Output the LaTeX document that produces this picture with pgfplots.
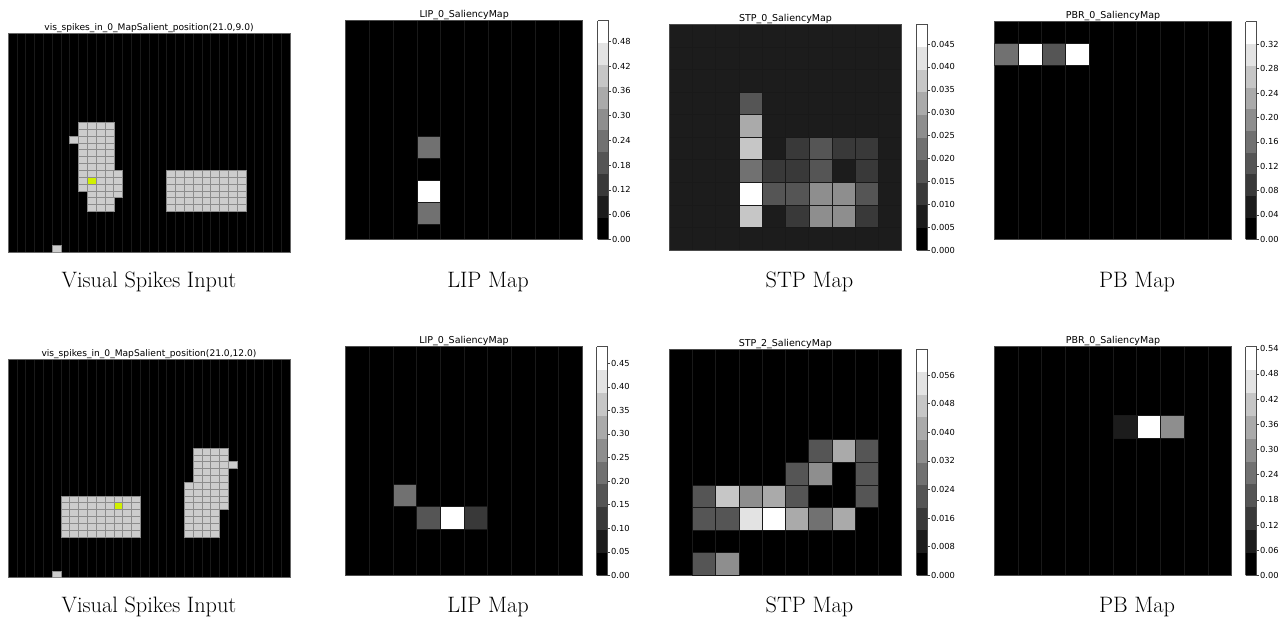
\documentclass[border=0pt]{standalone}
\usepackage{fontspec}
\usepackage{pgfplots}
\pgfplotsset{compat=1.18}
\newfontfamily\djv{DejaVu Sans}
\definecolor{visgray}{RGB}{204,204,204}
\definecolor{visedge}{RGB}{140,140,140}
\definecolor{yel}{RGB}{208,240,0}

\pgfplotsset{
 every axis/.append style={/pgf/number format/assume math mode=true},
 g10/.style={colormap={g10}{gray(0cm)=(0); gray(1cm)=(0.1111); gray(2cm)=(0.2222); gray(3cm)=(0.3333); gray(4cm)=(0.4444); gray(5cm)=(0.5556); gray(6cm)=(0.6667); gray(7cm)=(0.7778); gray(8cm)=(0.8889); gray(9cm)=(1); gray(10cm)=(1)}, colormap access=piecewise constant},
 hm/.style={scale only axis, enlargelimits=false, anchor=north west,
   axis background/.style={fill=black}, y dir=reverse,
   xmin=-0.5, xmax=9.5, ymin=-0.5, ymax=9.5,
   xtick={-0.5,0.5,...,9.5}, xticklabels={}, ytick=\empty, major tick length=0pt,
   xmajorgrids, grid style={draw=black!90, line width=0.6pt},
   axis line style={draw=black!70, line width=0.5pt},
   every axis title/.style={font=\djv\fontsize{9.5}{11}\selectfont, at={(0.5,1)}, anchor=base, yshift=3pt, inner sep=0pt},
   g10, clip marker paths=true, colorbar,
   colorbar style={at={(parent axis.north east)}, anchor=north west, width=11pt, xshift=6.46pt,
     scaled y ticks=false,
     ytick pos=right, ytick align=outside, major tick length=2pt,
     tick style={draw=black!75, line width=0.4pt},
     axis line style={draw=black!70, line width=0.5pt},
     yticklabel style={font=\djv\fontsize{8.3}{9}\selectfont, /pgf/number format/fixed, /pgf/number format/fixed zerofill, inner sep=1.2pt}}},
 hcell/.style 2 args={only marks, scatter, point meta=explicit, mark=square*, mark size=#1, mark options={xscale=#2},
   scatter/use mapped color={draw=black!90, line width=0.5pt, fill=mapped color}},
 vis/.style={scale only axis, enlargelimits=false, anchor=north west,
   axis background/.style={fill=black}, y dir=reverse,
   xmin=-0.5, xmax=31.5, ymin=-0.5, ymax=31.5,
   xtick={-0.5,0.5,...,31.5}, xticklabels={}, ytick=\empty, major tick length=0pt,
   xmajorgrids, grid style={draw=black!90, line width=0.6pt},
   axis line style={draw=black!60, line width=0.5pt}, clip marker paths=true,
   every axis title/.style={font=\djv\fontsize{9.1}{11}\selectfont, at={(0.5,1)}, anchor=base, yshift=3pt, inner sep=0pt}},
 viscell/.style n args={3}{only marks, mark=square*, mark size=#2,
   mark options={xscale=#3, fill=#1, draw=visedge, line width=0.5pt}},
}

\begin{document}
\begin{tikzpicture}
\useasboundingbox (0,0) rectangle (1280pt,-619pt);

% ---------- Row 1 ----------
\begin{axis}[vis, at={(8pt,-33pt)}, width=282pt, height=219.5pt,
  title={vis\_spikes\_in\_0\_MapSalient\_position(21.0,9.0)}]
\addplot[viscell={visgray}{3.43pt}{1.285}] coordinates {
(8,13) (9,13) (10,13) (11,13)
(8,14) (9,14) (10,14) (11,14)
(7,15) (8,15) (9,15) (10,15) (11,15)
(8,16) (9,16) (10,16) (11,16)
(8,17) (9,17) (10,17) (11,17)
(8,18) (9,18) (10,18) (11,18)
(8,19) (9,19) (10,19) (11,19)
(8,20) (9,20) (10,20) (11,20) (12,20)
(8,21) (10,21) (11,21) (12,21)
(8,22) (9,22) (10,22) (11,22) (12,22)
(9,23) (10,23) (11,23) (12,23)
(9,24) (10,24) (11,24)
(9,25) (10,25) (11,25)
(18,20) (19,20) (20,20) (21,20) (22,20) (23,20) (24,20) (25,20) (26,20)
(18,21) (19,21) (20,21) (21,21) (22,21) (23,21) (24,21) (25,21) (26,21)
(18,22) (19,22) (20,22) (21,22) (22,22) (23,22) (24,22) (25,22) (26,22)
(18,23) (19,23) (20,23) (21,23) (22,23) (23,23) (24,23) (25,23) (26,23)
(18,24) (19,24) (20,24) (21,24) (22,24) (23,24) (24,24) (25,24) (26,24)
(18,25) (19,25) (20,25) (21,25) (22,25) (23,25) (24,25) (25,25) (26,25)
(5,31)};
\addplot[viscell={yel}{3.43pt}{1.285}] coordinates {(9,21)};
\end{axis}

\begin{axis}[hm, at={(345.7pt,-20.7pt)}, width=237pt, height=218.6pt,
  ymin=-0.8, ymax=9.2, title={LIP\_0\_SaliencyMap},
  point meta min=0, point meta max=0.53,
  colorbar style={ytick={0,0.06,0.12,0.18,0.24,0.30,0.36,0.42,0.48}, yticklabel style={/pgf/number format/precision=2}}]
\addplot[hcell={10.93pt}{1.0842}] table[x=x, y=y, meta=v, row sep=\\] {
x y v\\
3 5 0.2385\\
3 7 0.5035\\
3 8 0.2385\\
};
\end{axis}

\begin{axis}[hm, at={(669.3pt,-24.3pt)}, width=232.4pt, height=225.7pt,
  axis background/.style={fill=black!89}, ytick={-0.5,0.5,...,9.5}, yticklabels={}, ymajorgrids,
  title={STP\_0\_SaliencyMap},
  point meta min=0, point meta max=0.0493,
  colorbar style={ytick={0,0.005,0.010,0.015,0.020,0.025,0.030,0.035,0.040,0.045}, yticklabel style={/pgf/number format/precision=3}}]
\addplot[hcell={11.285pt}{1.0297}] table[x=x, y=y, meta=v, row sep=\\] {
x y v\\
3 3 0.0173\\
3 4 0.0320\\
3 5 0.0370\\ 5 5 0.0123\\ 6 5 0.0173\\ 7 5 0.0123\\ 8 5 0.0123\\
3 6 0.0222\\ 4 6 0.0123\\ 5 6 0.0123\\ 6 6 0.0173\\ 8 6 0.0123\\
3 7 0.0468\\ 4 7 0.0173\\ 5 7 0.0173\\ 6 7 0.0271\\ 7 7 0.0271\\ 8 7 0.0173\\
3 8 0.0370\\ 5 8 0.0123\\ 6 8 0.0271\\ 7 8 0.0271\\ 8 8 0.0123\\
};
\end{axis}

\begin{axis}[hm, at={(994.3pt,-21.7pt)}, width=237.4pt, height=217.6pt,
  title={PBR\_0\_SaliencyMap},
  point meta min=0, point meta max=0.357,
  colorbar style={xshift=-1pt, ytick={0,0.04,0.08,0.12,0.16,0.20,0.24,0.28,0.32}, yticklabel style={/pgf/number format/precision=2}}]
\addplot[hcell={10.88pt}{1.091}] table[x=x, y=y, meta=v, row sep=\\] {
x y v\\
0 1 0.1607\\ 1 1 0.3392\\ 2 1 0.1250\\ 3 1 0.3392\\
};
\end{axis}

% ---------- Row 2 ----------
\begin{axis}[vis, at={(8pt,-359.3pt)}, width=282pt, height=218.4pt,
  title={vis\_spikes\_in\_0\_MapSalient\_position(21.0,12.0)}]
\addplot[viscell={visgray}{3.41pt}{1.292}] coordinates {
(21,13) (22,13) (23,13) (24,13)
(21,14) (22,14) (23,14) (24,14)
(21,15) (22,15) (23,15) (24,15) (25,15)
(21,16) (22,16) (23,16) (24,16)
(21,17) (22,17) (23,17) (24,17)
(20,18) (21,18) (22,18) (23,18) (24,18)
(20,19) (21,19) (22,19) (23,19) (24,19)
(20,20) (21,20) (22,20) (23,20) (24,20)
(20,21) (21,21) (22,21) (23,21) (24,21)
(20,22) (21,22) (22,22) (23,22)
(20,23) (21,23) (22,23) (23,23)
(20,24) (21,24) (22,24) (23,24)
(20,25) (21,25) (22,25) (23,25)
(6,20) (7,20) (8,20) (9,20) (10,20) (11,20) (12,20) (13,20) (14,20)
(6,21) (7,21) (8,21) (9,21) (10,21) (11,21) (13,21) (14,21)
(6,22) (7,22) (8,22) (9,22) (10,22) (11,22) (12,22) (13,22) (14,22)
(6,23) (7,23) (8,23) (9,23) (10,23) (11,23) (12,23) (13,23) (14,23)
(6,24) (7,24) (8,24) (9,24) (10,24) (11,24) (12,24) (13,24) (14,24)
(6,25) (7,25) (8,25) (9,25) (10,25) (11,25) (12,25) (13,25) (14,25)
(5,31)};
\addplot[viscell={yel}{3.41pt}{1.292}] coordinates {(12,21)};
\end{axis}

\begin{axis}[hm, at={(345.7pt,-346.7pt)}, width=236.6pt, height=228.6pt,
  title={LIP\_0\_SaliencyMap},
  point meta min=0, point meta max=0.485,
  colorbar style={xshift=-0.6pt, ytick={0,0.05,0.10,0.15,0.20,0.25,0.30,0.35,0.40,0.45}, yticklabel style={/pgf/number format/precision=2}}]
\addplot[hcell={11.43pt}{1.035}] table[x=x, y=y, meta=v, row sep=\\] {
x y v\\
2 6 0.2183\\ 3 7 0.1698\\ 4 7 0.4608\\ 5 7 0.1213\\
};
\end{axis}

\begin{axis}[hm, at={(669pt,-349.3pt)}, width=232.7pt, height=226pt,
  title={STP\_2\_SaliencyMap},
  point meta min=0, point meta max=0.0632,
  colorbar style={ytick={0,0.008,0.016,0.024,0.032,0.040,0.048,0.056}, yticklabel style={/pgf/number format/precision=3}}]
\addplot[hcell={11.3pt}{1.0296}] table[x=x, y=y, meta=v, row sep=\\] {
x y v\\
6 4 0.0221\\ 7 4 0.0411\\ 8 4 0.0221\\
5 5 0.0221\\ 6 5 0.0348\\ 8 5 0.0221\\
1 6 0.0221\\ 2 6 0.0474\\ 3 6 0.0348\\ 4 6 0.0411\\ 5 6 0.0221\\ 8 6 0.0221\\
1 7 0.0221\\ 2 7 0.0221\\ 3 7 0.0537\\ 4 7 0.0600\\ 5 7 0.0411\\ 6 7 0.0284\\ 7 7 0.0411\\
1 9 0.0221\\ 2 9 0.0348\\
};
\end{axis}

\begin{axis}[hm, at={(994.3pt,-346.7pt)}, width=237.4pt, height=228.6pt,
  title={PBR\_0\_SaliencyMap},
  point meta min=0, point meta max=0.545,
  colorbar style={xshift=-1pt, ytick={0,0.06,0.12,0.18,0.24,0.30,0.36,0.42,0.48,0.54}, yticklabel style={/pgf/number format/precision=2}}]
\addplot[hcell={11.43pt}{1.0385}] table[x=x, y=y, meta=v, row sep=\\] {
x y v\\
5 3 0.0818\\ 6 3 0.5178\\ 7 3 0.2998\\
};
\end{axis}

% ---------- Captions ----------
\begin{scope}[every node/.style={font=\fontsize{22.3}{26}\selectfont, anchor=base, inner sep=0pt}]
\node at (149pt,-287pt) {Visual Spikes Input};
\node at (488pt,-287pt) {LIP Map};
\node at (809.5pt,-287pt) {STP Map};
\node at (1137pt,-287pt) {PB Map};
\node at (149pt,-612pt) {Visual Spikes Input};
\node at (488pt,-612pt) {LIP Map};
\node at (809.5pt,-612pt) {STP Map};
\node at (1137pt,-612pt) {PB Map};
\end{scope}
\end{tikzpicture}
\end{document}
